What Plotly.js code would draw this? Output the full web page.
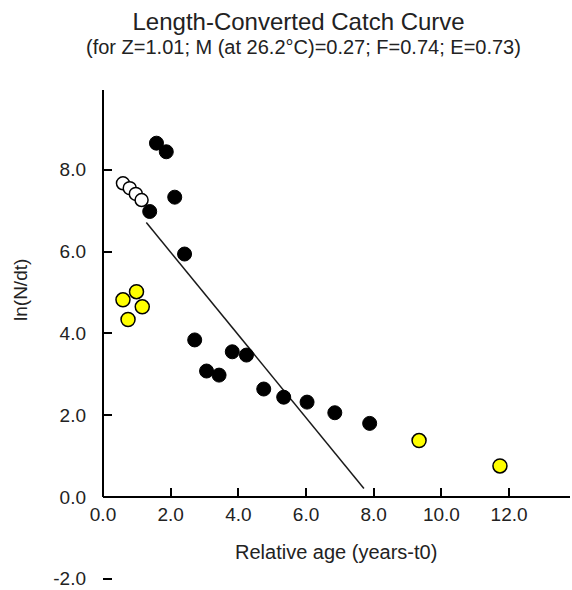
<!DOCTYPE html>
<html>
<head>
<meta charset="utf-8">
<script src="https://cdn.plot.ly/plotly-3.0.1.min.js"></script>
<style>
  html, body { margin: 0; padding: 0; background: #ffffff; }
  #chart { width: 572px; height: 590px; }
</style>
</head>
<body>
<div id="chart"></div>
<script>
// Points used in the regression (black)
const usedAge = [1.38, 1.58, 1.87, 2.12, 2.41, 2.71, 3.06, 3.43, 3.82, 4.24, 4.75, 5.34, 6.03, 6.85, 7.88];
const usedLnN = [6.98, 8.65, 8.44, 7.33, 5.94, 3.84, 3.08, 2.98, 3.55, 3.47, 2.64, 2.44, 2.32, 2.06, 1.80];

// Points not fully recruited (open circles)
const openAge = [0.59, 0.79, 0.97, 1.14];
const openLnN = [7.67, 7.55, 7.41, 7.26];

// Points excluded from the analysis (yellow)
const exclAge = [0.59, 0.74, 0.99, 1.16, 9.34, 11.73];
const exclLnN = [4.82, 4.34, 5.02, 4.65, 1.38, 0.76];

// Regression line end points (slope = -Z)
const regAge = [1.28, 7.71];
const regLnN = [6.71, 0.21];

// Axis ticks
const xTickVals = [0, 2, 4, 6, 8, 10, 12];
const xTickText = ['0.0', '2.0', '4.0', '6.0', '8.0', '10.0', '12.0'];
const yTickVals = [-2, 0, 2, 4, 6, 8];
const yTickText = ['-2.0', '0.0', '2.0', '4.0', '6.0', '8.0'];

const FONT = '"Liberation Sans", Arial, sans-serif';
const INK = '#222222';

const yRange = [-2.2, 9.95];
const xRange = [0, 13.8];

const traces = [
  {
    x: regAge, y: regLnN, type: 'scatter', mode: 'lines',
    line: { color: '#1a1a1a', width: 1.5 },
    hoverinfo: 'skip', showlegend: false
  },
  {
    x: openAge, y: openLnN, type: 'scatter', mode: 'markers',
    marker: { symbol: 'circle', size: 13, color: '#ffffff', line: { color: '#000000', width: 1.5 } },
    showlegend: false
  },
  {
    x: exclAge, y: exclLnN, type: 'scatter', mode: 'markers',
    marker: { symbol: 'circle', size: 14, color: '#ffff00', line: { color: '#000000', width: 1.5 } },
    showlegend: false
  },
  {
    x: usedAge, y: usedLnN, type: 'scatter', mode: 'markers',
    marker: { symbol: 'circle', size: 14, color: '#000000', line: { color: '#000000', width: 1 } },
    showlegend: false
  }
];

const layout = {
  width: 572,
  height: 590,
  margin: { l: 103, r: 2, t: 90, b: 3 },
  paper_bgcolor: '#ffffff',
  plot_bgcolor: '#ffffff',
  font: { family: FONT, color: INK, size: 19 },
  showlegend: false,
  title: {
    text: 'Length-Converted Catch Curve',
    font: { family: FONT, size: 24, color: INK },
    x: 0.522, xref: 'container', xanchor: 'center',
    y: 0.964, yref: 'container', yanchor: 'middle'
  },
  xaxis: {
    range: xRange,
    anchor: 'free',
    position: (0 - yRange[0]) / (yRange[1] - yRange[0]),
    showline: true, linecolor: '#000000', linewidth: 2,
    showgrid: false, zeroline: false,
    ticks: 'inside', ticklen: 8, tickwidth: 2, tickcolor: '#000000',
    tickmode: 'array', tickvals: xTickVals, ticktext: xTickText,
    tickfont: { family: FONT, size: 19, color: INK }
  },
  yaxis: {
    range: yRange,
    showline: false, showgrid: false, zeroline: false,
    ticks: 'inside', ticklen: 9, tickwidth: 2, tickcolor: '#000000',
    tickmode: 'array', tickvals: yTickVals, ticktext: yTickText,
    ticklabelstandoff: 16,
    tickfont: { family: FONT, size: 19, color: INK }
  },
  shapes: [
    // y axis line, drawn only above the x axis
    { type: 'line', xref: 'paper', yref: 'y', x0: 0, x1: 0, y0: 0, y1: yRange[1],
      line: { color: '#000000', width: 2 } }
  ],
  annotations: [
    {
      text: '(for Z=1.01; M (at 26.2°C)=0.27; F=0.74; E=0.73)',
      xref: 'paper', yref: 'paper', x: 0.430, y: 1.0865,
      xanchor: 'center', yanchor: 'middle', showarrow: false,
      font: { family: FONT, size: 20, color: INK }
    },
    {
      text: 'Relative age (years-t0)',
      xref: 'paper', yref: 'paper', x: 0.499, y: 0.0704,
      xanchor: 'center', yanchor: 'middle', showarrow: false,
      font: { family: FONT, size: 20, color: INK }
    },
    {
      text: 'ln(N/dt)', textangle: -90,
      xref: 'paper', yref: 'paper', x: -0.1756, y: 0.5976,
      xanchor: 'center', yanchor: 'middle', showarrow: false,
      font: { family: FONT, size: 19, color: INK }
    }
  ]
};

Plotly.newPlot('chart', traces, layout, { displayModeBar: false, staticPlot: true });
</script>
</body>
</html>
